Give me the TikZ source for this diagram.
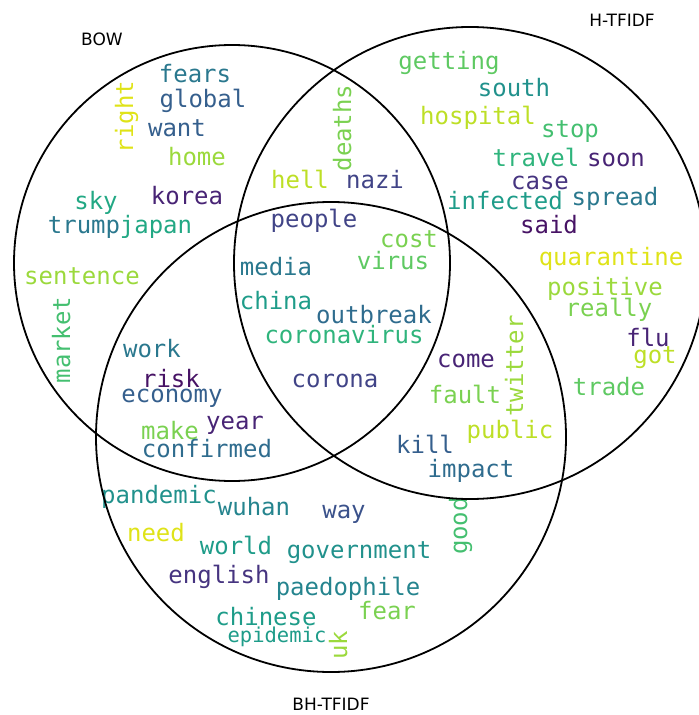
\documentclass[tikz,border=0pt]{standalone}
\usepackage{fontspec}
\setmainfont{DejaVu Sans}
\newfontfamily\wcfont{DejaVu Sans Mono}
\definecolor{v05}{HTML}{471365}
\definecolor{v10}{HTML}{482475}
\definecolor{v15}{HTML}{463480}
\definecolor{v20}{HTML}{414487}
\definecolor{v25}{HTML}{3B528B}
\definecolor{v30}{HTML}{355F8D}
\definecolor{v35}{HTML}{2F6C8E}
\definecolor{v40}{HTML}{2A788E}
\definecolor{v45}{HTML}{25848E}
\definecolor{v50}{HTML}{21918C}
\definecolor{v55}{HTML}{1E9C89}
\definecolor{v60}{HTML}{22A884}
\definecolor{v65}{HTML}{2FB47C}
\definecolor{v70}{HTML}{44BF70}
\definecolor{v75}{HTML}{5EC962}
\definecolor{v80}{HTML}{7AD151}
\definecolor{v85}{HTML}{9BD93C}
\definecolor{v90}{HTML}{BDDF26}
\definecolor{v95}{HTML}{DFE318}
\tikzset{
  wc/.style={inner sep=0pt, anchor=base, font=\wcfont\fontsize{24bp}{24bp}\selectfont},
  wcv/.style={wc, rotate=90},
  setlabel/.style={inner sep=0pt, anchor=base, font=\fontsize{17bp}{17bp}\selectfont},
  setcircle/.style={draw=black, line width=1.8bp}
}
\begin{document}
\begin{tikzpicture}[x=1bp,y=-1bp]
\useasboundingbox (0,0) rectangle (699,715);
\clip (0,0) rectangle (699,715);
% BOW only
\node[wc,text=v40] (fears) at (195,83) {fears};
\node[wc,text=v30] (global) at (203,108) {global};
\node[wc,text=v30] (want) at (177,137) {want};
\node[wcv,text=v95] (right) at (133,117) {right};
\node[wc,text=v85] (home) at (197,165) {home};
\node[wc,text=v10] (korea) at (187,204) {korea};
\node[wc,text=v60] (sky) at (96,209) {sky};
\node[wc,text=v40] (trump) at (84,233) {trump};
\node[wc,text=v60] (japan) at (156,233) {japan};
\node[wc,text=v85] (sentence) at (82,284) {sentence};
\node[wcv,text=v70] (market) at (70,340) {market};
% BOW and H
\node[wcv,text=v80] (deaths) at (351,128) {deaths};
\node[wc,text=v90] (hell) at (300,188) {hell};
\node[wc,text=v20] (nazi) at (375,188) {nazi};
% H only
\node[wc,text=v75] (getting) at (449,70) {getting};
\node[wc,text=v50] (south) at (514,97) {south};
\node[wc,text=v90] (hospital) at (478,125) {hospital};
\node[wc,text=v70] (stop) at (570,138) {stop};
\node[wc,text=v65] (travel) at (536,166) {travel};
\node[wc,text=v10] (soon) at (616,166) {soon};
\node[wc,text=v15] (case) at (540,189) {case};
\node[wc,text=v55] (infected) at (505,209) {infected};
\node[wc,text=v40] (spread) at (615,205) {spread};
\node[wc,text=v05] (said) at (549,233) {said};
\node[wc,text=v95] (quarantine) at (611,265) {quarantine};
\node[wc,text=v85] (positive) at (605,295) {positive};
\node[wc,text=v80] (really) at (609,316) {really};
\node[wc,text=v10] (flu) at (648,346) {flu};
\node[wc,text=v90] (got) at (655,363) {got};
\node[wc,text=v75] (trade) at (609,395) {trade};
% all three
\node[wc,text=v20] (people) at (314,227) {people};
\node[wc,text=v80] (cost) at (409,247) {cost};
\node[wc,text=v40] (media) at (276,275) {media};
\node[wc,text=v75] (virus) at (393,269) {virus};
\node[wc,text=v55] (china) at (276,309) {china};
\node[wc,text=v35] (outbreak) at (374,323) {outbreak};
\node[wc,text=v65] (coronavirus) at (344,343) {coronavirus};
\node[wc,text=v20] (corona) at (335,387) {corona};
% H and BH
\node[wc,text=v10] (come) at (466,367) {come};
\node[wcv,text=v85] (twitter) at (523,366) {twitter};
\node[wc,text=v80] (fault) at (465,403) {fault};
\node[wc,text=v90] (public) at (510,438) {public};
\node[wc,text=v30] (kill) at (425,453) {kill};
\node[wc,text=v35] (impact) at (471,477) {impact};
% BOW and BH
\node[wc,text=v40] (work) at (152,357) {work};
\node[wc,text=v05] (risk) at (171,387) {risk};
\node[wc,text=v30] (economy) at (172,402) {economy};
\node[wc,text=v10] (year) at (235,429) {year};
\node[wc,text=v80] (make) at (170,439) {make};
\node[wc,text=v35] (confirmed) at (207,457) {confirmed};
% BH only
\node[wc,text=v50] (pandemic) at (159,503) {pandemic};
\node[wc,text=v45] (wuhan) at (254,515) {wuhan};
\node[wc,text=v25] (way) at (344,518) {way};
\node[wc,text=v95] (need) at (156,541) {need};
\node[wc,text=v55] (world) at (236,554) {world};
\node[wc,text=v50] (government) at (359,558) {government};
\node[wcv,text=v70] (good) at (467,526) {good};
\node[wc,text=v15] (english) at (219,583) {english};
\node[wc,text=v45] (paedophile) at (348,595) {paedophile};
\node[wc,text=v80] (fear) at (387,619) {fear};
\node[wc,text=v55] (chinese) at (266,625) {chinese};
\node[wc,text=v55,font=\wcfont\fontsize{20.5bp}{20.5bp}\selectfont] (epidemic) at (277,642) {epidemic};
\node[wcv,text=v85] (uk) at (347,645) {uk};
% circles
\draw[setcircle] (232,263) circle[radius=218bp];
\draw[setcircle] (470,263) circle[radius=236bp];
\draw[setcircle] (331,437) circle[radius=235bp];
% set labels
\node[setlabel] (bow) at (102,46) {BOW};
\node[setlabel] (htfidf) at (622,27) {H-TFIDF};
\node[setlabel] (bhtfidf) at (331,710) {BH-TFIDF};
\end{tikzpicture}
\end{document}
